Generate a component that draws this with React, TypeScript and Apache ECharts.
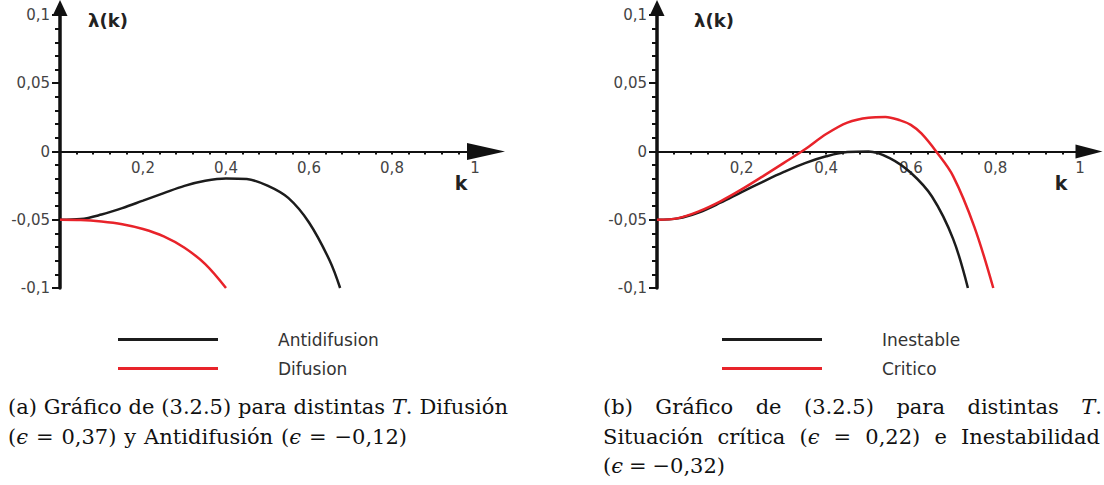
import React, { useEffect, useRef } from "react";
import * as echarts from "echarts";

// λ(k) curves, [k, λ] pairs
const antidifusion: [number, number][] = [
  [0, -0.05], [0.05, -0.0495], [0.1, -0.0462], [0.15, -0.0415], [0.2, -0.036],
  [0.25, -0.0305], [0.3, -0.0252], [0.35, -0.0215], [0.4, -0.0198], [0.45, -0.0202],
  [0.5, -0.025], [0.55, -0.034], [0.6, -0.052], [0.65, -0.08], [0.675, -0.1],
];
const difusion: [number, number][] = [
  [0, -0.05], [0.05, -0.0502], [0.1, -0.0513], [0.15, -0.0533], [0.2, -0.0568],
  [0.25, -0.0622], [0.3, -0.0705], [0.35, -0.0825], [0.4, -0.1],
];
const inestable: [number, number][] = [
  [0, -0.05], [0.05, -0.049], [0.1, -0.0445], [0.15, -0.0375], [0.2, -0.0297],
  [0.25, -0.0222], [0.3, -0.015], [0.35, -0.0085], [0.4, -0.0035], [0.45, -0.0004],
  [0.5, 0], [0.55, -0.0048], [0.6, -0.0156], [0.65, -0.033], [0.7, -0.064], [0.735, -0.1],
];
const critico: [number, number][] = [
  [0, -0.05], [0.05, -0.0488], [0.1, -0.0437], [0.15, -0.0365], [0.2, -0.0278],
  [0.25, -0.0182], [0.3, -0.0083], [0.35, 0.0016], [0.4, 0.0128], [0.45, 0.0212],
  [0.5, 0.0248], [0.54, 0.0253], [0.575, 0.0228], [0.6, 0.0195], [0.625, 0.0132],
  [0.66, 0], [0.7, -0.018], [0.75, -0.055], [0.795, -0.1],
];

const legendA = ["Antidifusion", "Difusion"];
const legendB = ["Inestable", "Critico"];

// caption words: each word is a list of [text, italic] pieces
type Piece = [string, boolean];
type Word = Piece[];
const r = (t: string): Word => [[t, false]];
const captionA: Word[][] = [
  [r("(a)"), r("Gráfico"), r("de"), r("(3.2.5)"), r("para"), r("distintas"), [["T", true], [".", false]], r("Difusión")],
  [[["(", false], ["ϵ", true]], r("="), r("0,37)"), r("y"), r("Antidifusión"), [["(", false], ["ϵ", true]], r("="), r("−0,12)")],
];
const captionB: Word[][] = [
  [r("(b)"), r("Gráfico"), r("de"), r("(3.2.5)"), r("para"), r("distintas"), [["T", true], [".", false]]],
  [r("Situación"), r("crítica"), [["(", false], ["ϵ", true]], r("="), r("0,22)"), r("e"), r("Inestabilidad")],
  [[["(", false], ["ϵ", true]], r("="), r("−0,32)")],
];

const SANS = '"DejaVu Sans", sans-serif';
const SERIF = '"DejaVu Serif", "Liberation Serif", serif';
const CAP_SIZE = 21;
const INK = "#111";
const BLACK = "#1c1c1c";
const RED = "#e8232a";

const fmt = (v: number) => String(Math.round(v * 1000) / 1000).replace(".", ",");

function captionGraphics(lines: Word[][], spans: [number, number, number][]) {
  const ctx = document.createElement("canvas").getContext("2d")!;
  const width = (p: Piece) => {
    ctx.font = `${p[1] ? "italic " : ""}${CAP_SIZE}px ${SERIF}`;
    return ctx.measureText(p[0]).width;
  };
  const out: any[] = [];
  lines.forEach((words, li) => {
    const [x0, x1, y] = spans[li];
    const ww = words.map((w) => w.reduce((s, p) => s + width(p), 0));
    const total = ww.reduce((a, b) => a + b, 0);
    const gap = words.length > 1 ? (x1 - x0 - total) / (words.length - 1) : 0;
    let x = x0;
    words.forEach((w, wi) => {
      let px = x;
      w.forEach((p) => {
        out.push({
          type: "text",
          x: px,
          y,
          silent: true,
          style: {
            text: p[0],
            fontFamily: SERIF,
            fontSize: CAP_SIZE,
            fontStyle: p[1] ? "italic" : "normal",
            fill: INK,
            align: "left",
            verticalAlign: "middle",
            textAlign: "left",
            textVerticalAlign: "middle",
          },
        });
        px += width(p);
      });
      x += ww[wi] + gap;
    });
  });
  return out;
}

// plot area: y from -0.1 (bottom) to 0.1 (top); the k axis sits on λ = 0
const GRID_TOP = 15;
const GRID_H = 273;
const ZERO_OFFSET = -GRID_H / 2;

function xAxisFor(i: number, arrow: [number, number], arrowOff: number, nameGap: number) {
  return {
    type: "value",
    gridIndex: i,
    position: "bottom",
    offset: ZERO_OFFSET,
    min: 0,
    max: 1,
    interval: 0.2,
    axisLine: {
      show: true,
      onZero: false,
      symbol: ["none", "triangle"],
      symbolSize: arrow,
      symbolOffset: [0, arrowOff],
      lineStyle: { color: INK, width: 2 },
    },
    axisTick: { show: true, length: 3, lineStyle: { color: INK, width: 2 } },
    minorTick: { show: true, splitNumber: 5, length: 3, lineStyle: { color: INK, width: 2 } },
    splitLine: { show: false },
    minorSplitLine: { show: false },
    axisLabel: {
      showMinLabel: false,
      formatter: fmt,
      margin: 9,
      fontFamily: SANS,
      fontSize: 15,
      color: "#444",
    },
    name: "\n\nk",
    nameLocation: "end",
    nameGap,
    nameMoveOverlap: false,
    nameTextStyle: {
      fontFamily: SANS,
      fontSize: 19,
      fontWeight: "bold",
      color: "#222",
      lineHeight: 31,
      align: "center",
      verticalAlign: "middle",
    },
  };
}

function yAxisFor(i: number, nameShift: number) {
  return {
    type: "value",
    gridIndex: i,
    min: -0.1,
    max: 0.1,
    interval: 0.05,
    axisLine: {
      show: true,
      onZero: true,
      symbol: ["none", "triangle"],
      symbolSize: [15, 16],
      symbolOffset: [0, 7],
      lineStyle: { color: INK, width: 3.5 },
    },
    axisTick: { show: true, length: 8, lineStyle: { color: INK, width: 2 } },
    minorTick: { show: true, splitNumber: 5, length: 5, lineStyle: { color: INK, width: 2 } },
    splitLine: { show: false },
    minorSplitLine: { show: false },
    axisLabel: {
      formatter: fmt,
      margin: 10,
      fontFamily: SANS,
      fontSize: 15,
      color: "#444",
    },
    name: "λ(k)",
    nameLocation: "end",
    nameGap: -5,
    nameMoveOverlap: false,
    nameTextStyle: {
      fontFamily: SANS,
      fontSize: 18,
      fontWeight: "bold",
      color: "#222",
      align: "center",
      verticalAlign: "middle",
      padding: [0, 0, 0, nameShift * 2],
    },
  };
}

function lineSeries(name: string, data: [number, number][], idx: number, color: string) {
  return {
    name,
    type: "line",
    xAxisIndex: idx,
    yAxisIndex: idx,
    data,
    smooth: 0.35,
    symbol: "none",
    lineStyle: { color, width: 2.5 },
    itemStyle: { color },
  };
}

function legendFor(names: string[], left: number) {
  return {
    data: names,
    orient: "vertical",
    left,
    top: 331,
    padding: 0,
    icon: "rect",
    itemWidth: 100,
    itemHeight: 3,
    itemGap: 12,
    textStyle: {
      fontFamily: SANS,
      fontSize: 17,
      lineHeight: 16,
      color: "#333",
      padding: [0, 0, 0, 55],
    },
  };
}

export default function App() {
  const ref = useRef<HTMLDivElement>(null);

  useEffect(() => {
    if (!ref.current) return;
    const chart = echarts.init(ref.current, undefined, { renderer: "svg" });
    chart.setOption({
      animation: false,
      backgroundColor: "#fff",
      grid: [
        { left: 60, top: GRID_TOP, width: 415, height: GRID_H },
        { left: 657, top: GRID_TOP, width: 423, height: GRID_H },
      ],
      xAxis: [
        xAxisFor(0, [17, 38], 11, -14),
        xAxisFor(1, [14, 27], 9, -19),
      ],
      yAxis: [yAxisFor(0, 48), yAxisFor(1, 57)],
      legend: [legendFor(legendA, 118), legendFor(legendB, 722)],
      series: [
        lineSeries(legendA[0], antidifusion, 0, BLACK),
        lineSeries(legendA[1], difusion, 0, RED),
        lineSeries(legendB[0], inestable, 1, BLACK),
        lineSeries(legendB[1], critico, 1, RED),
      ],
      graphic: [
        ...captionGraphics(captionA, [[8, 508, 407], [8, 407, 437]]),
        ...captionGraphics(captionB, [[603, 1102, 407], [603, 1100, 437], [603, 725, 466]]),
      ],
    });
    return () => chart.dispose();
  }, []);

  return (
    <div
      ref={ref}
      style={{ position: "absolute", left: 0, top: 0, width: 1104, height: 485, background: "#fff" }}
    />
  );
}
